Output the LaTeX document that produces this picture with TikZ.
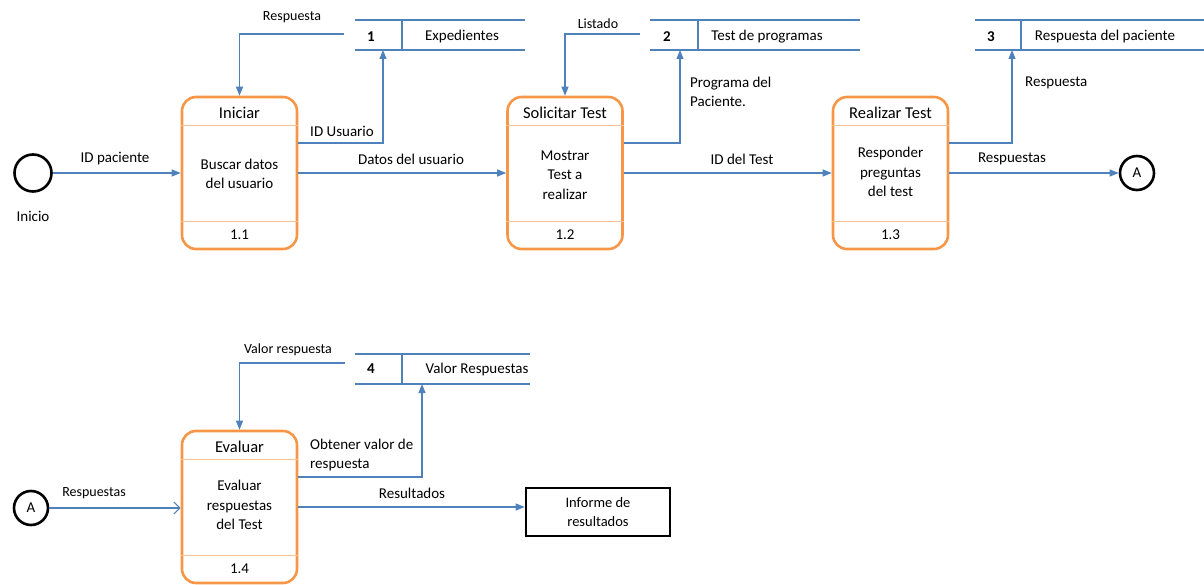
\documentclass[tikz,border=0pt]{standalone}
\usepackage{fontspec}
\setmainfont{Carlito}
\usetikzlibrary{arrows.meta}
\definecolor{flowblue}{HTML}{4F81BD}
\definecolor{procorange}{HTML}{F79646}
\definecolor{lineorange}{HTML}{FBC08F}
\tikzset{
  proc/.style={draw=procorange, line width=2.6pt, rounded corners=14pt, minimum width=115pt, minimum height=152pt, inner sep=0pt},
  divline/.style={draw=lineorange, line width=1.2pt},
  store/.style={draw=flowblue, line width=1.1pt},
  flow/.style={draw=flowblue, line width=1.1pt, -{Triangle[length=9pt,width=7pt]}},
  openflow/.style={draw=flowblue, line width=1.1pt, -{Straight Barb[length=6pt,width=12pt]}},
  txt/.style={inner sep=0pt, font=\fontsize{15}{19.5}\selectfont, align=center},
  title/.style={inner sep=0pt, font=\fontsize{16.5}{20}\selectfont, align=center},
  small/.style={inner sep=0pt, font=\fontsize{14}{18}\selectfont, align=center},
  endc/.style={circle, draw=black, line width=2.6pt, inner sep=0pt, font=\fontsize{15}{17}\selectfont},
  extbox/.style={draw=black, line width=2.6pt, minimum width=144pt, minimum height=48pt, inner sep=0pt, align=center, font=\fontsize{14.5}{19}\selectfont},
}
\begin{document}
\begin{tikzpicture}[x=1pt,y=-1pt]
    \useasboundingbox (0,0) rectangle (1204,585);

    % processes
    \node[proc] (p1) at (239.5,173) {};
    \node[proc] (p2) at (565,173) {};
    \node[proc] (p3) at (890.5,173) {};
    \node[proc] (p4) at (239.5,507) {};
    \foreach \p in {p1,p2,p3,p4}{
        \draw[divline] ([yshift=-30pt]\p.north west) -- ([yshift=-30pt]\p.north east);
        \draw[divline] ([yshift=29pt]\p.south west) -- ([yshift=29pt]\p.south east);
    }

    \node[title] (p1t) at (239.5,113) {Iniciar};
    \node[txt] (p1b) at (239.5,174) {Buscar datos\\del usuario};
    \node[txt] (p1n) at (239.5,235) {1.1};
    \node[title] (p2t) at (565,113) {Solicitar Test};
    \node[txt] (p2b) at (565,175) {Mostrar\\Test a\\realizar};
    \node[txt] (p2n) at (565,235) {1.2};
    \node[title] (p3t) at (890.5,113) {Realizar Test};
    \node[txt] (p3b) at (890.5,172) {Responder\\preguntas\\del test};
    \node[txt] (p3n) at (890.5,235) {1.3};
    \node[title] (p4t) at (239.5,447) {Evaluar};
    \node[txt] (p4b) at (239.5,505) {Evaluar\\respuestas\\del Test};
    \node[txt] (p4n) at (239.5,569) {1.4};

    % data stores
    \draw[store] (355,20) -- (525,20) (355,50) -- (525,50) (402,20) -- (402,50);
    \node[txt] (s1n) at (371,37) {\textbf{1}};
    \node[txt] (s1) at (462,37) {Expedientes};
    \draw[store] (650,20) -- (860,20) (650,50) -- (860,50) (698,20) -- (698,50);
    \node[txt] (s2n) at (667,37) {\textbf{2}};
    \node[txt] (s2) at (767,37) {Test de programas};
    \draw[store] (975,20) -- (1204,20) (975,50) -- (1204,50) (1021,20) -- (1021,50);
    \node[txt] (s3n) at (991,37) {\textbf{3}};
    \node[txt] (s3) at (1105,37) {Respuesta del paciente};
    \draw[store] (355,354) -- (530,354) (355,384) -- (530,384) (402,354) -- (402,384);
    \node[txt] (s4n) at (371,369) {\textbf{4}};
    \node[txt] (s4) at (477,369) {Valor Respuestas};

    \coordinate (s1out) at (344,34);
    \coordinate (s1in) at (383,50);
    \coordinate (s2out) at (640,34);
    \coordinate (s2in) at (680,50);
    \coordinate (s3in) at (1012,50);
    \coordinate (s4out) at (345,363);
    \coordinate (s4in) at (422,384);

    % terminals
    \node[endc, minimum size=37pt] (ini) at (33,173) {};
    \node[txt] (inil) at (33,216) {Inicio};
    \node[endc, minimum size=34pt] (a1) at (1137,173) {A};
    \node[endc, minimum size=34pt] (a2) at (31,508) {A};
    \node[extbox] (inf) at (598,512) {Informe de\\resultados};

    % flows
    \draw[flow] (ini.east) -- (ini.east -| p1.west);
    \node[txt] (l1) at (115,159) {ID paciente};
    \draw[flow] (s1out) -| (p1.north);
    \node[small] (l2) at (292,17) {Respuesta};
    \draw[flow] ([yshift=30pt]p1.east) -| (s1in);
    \node[txt] (l3) at (342,131) {ID Usuario};
    \draw[flow] (p1.east) -- (p2.west);
    \node[txt] (l4) at (411,159) {Datos del usuario};
    \draw[flow] (s2out) -| (p2.north);
    \node[small] (l5) at (598,24) {Listado};
    \draw[flow] ([yshift=30pt]p2.east) -| (s2in);
    \node[txt, anchor=west, align=left] (l6) at (690,92) {Programa del\\Paciente.};
    \draw[flow] (p2.east) -- (p3.west);
    \node[txt] (l7) at (742,159) {ID del Test};
    \draw[flow] ([yshift=30pt]p3.east) -| (s3in);
    \node[txt, anchor=west] (l8) at (1025,83) {Respuesta};
    \draw[flow] (p3.east) -- (a1.west);
    \node[txt] (l9) at (1012,159) {Respuestas};

    \draw[openflow] (a2.east) -- (a2.east -| p4.west);
    \node[small] (l10) at (94,493) {Respuestas};
    \draw[flow] (s4out) -| (p4.north);
    \node[small] (l11) at (288,350) {Valor respuesta};
    \draw[flow] ([yshift=30pt]p4.east) -| (s4in);
    \node[txt, anchor=west, align=left] (l12) at (310,455) {Obtener valor de\\respuesta};
    \draw[flow] (p4.east) -- (p4.east -| inf.west);
    \node[txt] (l13) at (412,493) {Resultados};
\end{tikzpicture}
\end{document}
